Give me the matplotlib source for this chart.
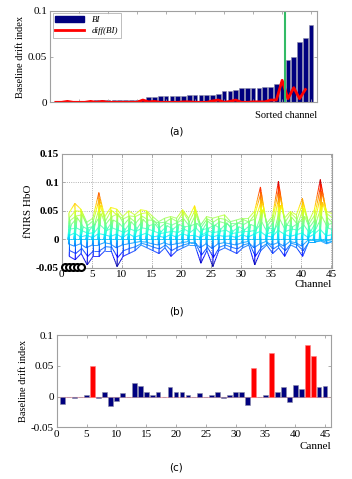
import numpy as np
import matplotlib
matplotlib.use("Agg")
import matplotlib.pyplot as plt
from matplotlib.collections import LineCollection
from matplotlib.colors import Normalize
from matplotlib.lines import Line2D
from matplotlib.patches import Patch

plt.rcParams['font.family'] = ['Liberation Serif', 'DejaVu Serif']
plt.rcParams['font.size'] = 7.5

# baseline drift index per channel (panel c)
channels = np.arange(1, 46)
bi = np.array([-0.012, 0.0, -0.003, -0.001, 0.003, 0.050, -0.003, 0.007, -0.016, -0.0075,
               0.0055, 0.0, 0.022, 0.0165, 0.008, 0.003, 0.008, -0.001, 0.0155, 0.007,
               0.007, 0.003, -0.001, 0.006, -0.001, 0.002, 0.007, -0.002, 0.003, 0.008,
               0.008, -0.013, 0.046, 0.0, 0.003, 0.070, 0.007, 0.0155, -0.0095, 0.0195,
               0.012, 0.084, 0.066, 0.0155, 0.017])
drift_channels = [6, 33, 36, 42, 43]
threshold_pos = 40.5   # cut between sorted channel 40 and 41

# fNIRS HbO samples per channel (panel b), one list per time sample
hbo_t1 = [0.018, 0.020, 0.015, 0.010, 0.012, 0.025, 0.015, 0.020, 0.016, 0.012,
          0.018, 0.014, 0.020, 0.018, 0.014, 0.010, 0.012, 0.014, 0.012, 0.018,
          0.012, 0.020, 0.008, 0.014, 0.012, 0.014, 0.016, 0.010, 0.012, 0.014,
          0.014, 0.016, 0.030, 0.010, 0.014, 0.035, 0.014, 0.018, 0.016, 0.025,
          0.010, 0.018, 0.040, 0.020, 0.016]
hbo_t2 = [0.046, 0.063, 0.053, 0.030, 0.037, 0.082, 0.040, 0.056, 0.053, 0.040,
          0.050, 0.043, 0.052, 0.050, 0.040, 0.031, 0.037, 0.040, 0.037, 0.052,
          0.037, 0.059, 0.025, 0.040, 0.037, 0.040, 0.043, 0.031, 0.034, 0.037,
          0.037, 0.049, 0.092, 0.028, 0.040, 0.102, 0.037, 0.049, 0.043, 0.072,
          0.030, 0.052, 0.105, 0.049, 0.045]
hbo_t3 = [-0.008, -0.012, -0.008, -0.015, -0.010, -0.010, -0.006, -0.008, -0.015, -0.010,
          -0.008, -0.006, -0.004, -0.005, -0.008, -0.010, -0.006, -0.010, -0.008, -0.006,
          -0.004, -0.004, -0.015, -0.008, -0.016, -0.008, -0.006, -0.008, -0.010, -0.006,
          -0.004, -0.015, -0.008, -0.004, -0.010, -0.006, -0.012, -0.004, -0.006, -0.012,
          -0.002, -0.002, -0.001, -0.003, -0.001]
hbo_t4 = [0.026, 0.038, 0.022, 0.016, 0.027, 0.045, 0.018, 0.034, 0.028, 0.017,
          0.031, 0.019, 0.035, 0.024, 0.027, 0.013, 0.024, 0.018, 0.026, 0.022,
          0.024, 0.028, 0.017, 0.020, 0.025, 0.018, 0.029, 0.014, 0.022, 0.017,
          0.026, 0.021, 0.052, 0.019, 0.018, 0.060, 0.025, 0.022, 0.029, 0.040,
          0.014, 0.033, 0.065, 0.026, 0.030]
hbo_t5 = [0.0] * 45
hbo_t6 = [0.038, 0.050, 0.049, 0.024, 0.033, 0.072, 0.032, 0.051, 0.042, 0.036,
          0.041, 0.040, 0.045, 0.047, 0.031, 0.029, 0.030, 0.037, 0.031, 0.048,
          0.030, 0.052, 0.021, 0.036, 0.030, 0.037, 0.035, 0.028, 0.027, 0.035,
          0.030, 0.045, 0.082, 0.023, 0.037, 0.092, 0.030, 0.046, 0.035, 0.064,
          0.027, 0.043, 0.096, 0.045, 0.037]
hbo_t7 = [-0.030, -0.036, -0.025, -0.045, -0.030, -0.030, -0.020, -0.020, -0.048, -0.030,
          -0.025, -0.020, -0.010, -0.015, -0.020, -0.025, -0.015, -0.030, -0.020, -0.015,
          -0.010, -0.010, -0.042, -0.020, -0.048, -0.020, -0.015, -0.020, -0.025, -0.015,
          -0.010, -0.045, -0.020, -0.010, -0.025, -0.015, -0.030, -0.010, -0.015, -0.030,
          -0.005, -0.005, -0.003, -0.008, -0.004]
hbo_t8 = [0.033, 0.041, 0.043, 0.020, 0.023, 0.060, 0.027, 0.040, 0.045, 0.026,
          0.038, 0.029, 0.041, 0.034, 0.033, 0.021, 0.029, 0.025, 0.030, 0.036,
          0.022, 0.044, 0.014, 0.032, 0.023, 0.031, 0.028, 0.022, 0.029, 0.026,
          0.032, 0.036, 0.070, 0.017, 0.030, 0.080, 0.021, 0.039, 0.026, 0.055,
          0.021, 0.036, 0.085, 0.038, 0.027]
hbo_t9 = [0.006, 0.011, 0.004, 0.007, 0.003, 0.010, 0.008, 0.005, 0.009, 0.003,
          0.010, 0.004, 0.007, 0.011, 0.004, 0.006, 0.003, 0.008, 0.004, 0.010,
          0.006, 0.007, 0.003, 0.009, 0.004, 0.007, 0.005, 0.006, 0.003, 0.008,
          0.004, 0.009, 0.014, 0.006, 0.004, 0.016, 0.009, 0.005, 0.008, 0.011,
          0.003, 0.009, 0.018, 0.006, 0.008]
hbo_t10 = [-0.020, -0.025, -0.016, -0.030, -0.020, -0.020, -0.013, -0.014, -0.032, -0.020,
           -0.016, -0.013, -0.007, -0.010, -0.014, -0.017, -0.010, -0.020, -0.014, -0.010,
           -0.007, -0.007, -0.028, -0.014, -0.032, -0.014, -0.010, -0.014, -0.017, -0.010,
           -0.007, -0.030, -0.014, -0.007, -0.017, -0.010, -0.020, -0.007, -0.010, -0.020,
           -0.004, -0.004, -0.002, -0.006, -0.003]
event_ch = [0.5, 1.2, 1.9, 2.6, 3.3]
event_y = -0.049

navy = '#00007f'
gray = '#a0a0a0'

fig = plt.figure(figsize=(3.52, 4.79), dpi=100)


def style(ax, size=8):
    for s in ax.spines.values():
        s.set_color(gray)
        s.set_linewidth(0.8)
    ax.tick_params(direction='in', length=2, width=0.6, color=gray,
                   top=True, right=True, labelsize=size, pad=2)


# ---- (a) sorted BI ----
ax = fig.add_axes([0.142, 0.7864, 0.7585, 0.1912])
bi_sorted = np.sort(np.abs(bi))
pos = np.arange(1, len(bi_sorted) + 1)
ax.bar(pos, bi_sorted, width=0.8, color=navy, edgecolor='#8c8ca8', linewidth=0.4)
ax.plot(pos[:-1], np.diff(bi_sorted), color='red', lw=2)
ax.axvline(threshold_pos, color='#33bb66', lw=1.5)
ax.set_xlim(0, 46)
ax.set_ylim(0, 0.1)
ax.set_xticks(np.arange(0, 46, 5))
ax.set_xticklabels([])
ax.set_yticks([0, 0.05, 0.1])
ax.set_yticklabels(['0', '0.05', '0.1'])
ax.set_ylabel('Baseline drift index', fontsize=7.5, labelpad=2)
style(ax)
ax.text(1.0, -0.1, 'Sorted channel', transform=ax.transAxes, ha='right', va='top', fontsize=7.5)
handles = [Patch(facecolor=navy, edgecolor=navy), Line2D([0], [0], color='red', lw=2)]
leg = ax.legend(handles, ['BI', 'diff(BI)'], loc='upper left',
                prop={'style': 'italic', 'size': 6.5}, frameon=True, fancybox=False,
                borderpad=0.3, handlelength=3.2, labelspacing=0.3, borderaxespad=0.3)
leg.get_frame().set_edgecolor(gray)
leg.get_frame().set_linewidth(0.6)
fig.text(0.5, 0.7265, '(a)', ha='center', va='center', fontsize=7.5, family='DejaVu Sans')

# ---- (b) HbO mesh, coloured by value ----
ax = fig.add_axes([0.1753, 0.4411, 0.767, 0.2374])
norm = Normalize(-0.05, 0.11)


def jet_line(ax, x, y, lw=0.7):
    x = np.asarray(x, float)
    y = np.asarray(y, float)
    t = np.linspace(0, 1, 9)
    segs, vals = [], []
    for i in range(len(x) - 1):
        xs = x[i] + (x[i + 1] - x[i]) * t
        ys = y[i] + (y[i + 1] - y[i]) * t
        for j in range(len(t) - 1):
            segs.append([(xs[j], ys[j]), (xs[j + 1], ys[j + 1])])
            vals.append((ys[j] + ys[j + 1]) / 2)
    lc = LineCollection(segs, cmap='jet', norm=norm, linewidths=lw)
    lc.set_array(np.array(vals))
    ax.add_collection(lc)


rows = [hbo_t1, hbo_t2, hbo_t3, hbo_t4, hbo_t5, hbo_t6, hbo_t7, hbo_t8, hbo_t9, hbo_t10]
# horizontal offset of each time sample (view projection)
shift = [0.45, 0.2, 0.1, 0.6, 0.0, 0.3, 0.25, 0.4, 0.15, 0.35]
for r, dx in zip(rows, shift):
    jet_line(ax, channels + dx, r)
for i in range(45):
    jet_line(ax, [channels[i] + dx for dx in shift], [r[i] for r in rows], lw=0.5)
ax.plot(event_ch, [event_y] * len(event_ch), 'o', ms=5, mfc='white', mec='black', mew=1.5,
        clip_on=False, zorder=5)
ax.set_xlim(0, 45.1)
ax.set_ylim(-0.05, 0.15)
ax.set_xticks(np.arange(0, 46, 5))
ax.set_yticks([-0.05, 0, 0.05, 0.1, 0.15])
ax.set_yticklabels(['-0.05', '0', '0.05', '0.1', '0.15'], fontweight='bold')
ax.grid(True, linestyle=':', color='#999999', linewidth=0.6)
ax.set_ylabel('fNIRS HbO', fontsize=8, labelpad=2)
style(ax)
ax.text(1.0, -0.11, 'Channel', transform=ax.transAxes, ha='right', va='top', fontsize=8)
fig.text(0.5, 0.349, '(b)', ha='center', va='center', fontsize=7.5, family='DejaVu Sans')

# ---- (c) BI per channel ----
ax = fig.add_axes([0.1611, 0.1079, 0.7793, 0.1927])
colors = ['red' if c in drift_channels else navy for c in channels]
edges = ['#ff8080' if c in drift_channels else '#8c8ca8' for c in channels]
ax.axhline(0, color='#ffaaaa', lw=0.8, zorder=0)
ax.bar(channels, bi, width=0.8, color=colors, edgecolor=edges, linewidth=0.4)
ax.set_xlim(0, 46)
ax.set_ylim(-0.05, 0.1)
ax.set_xticks(np.arange(0, 46, 5))
ax.set_yticks([-0.05, 0, 0.05, 0.1])
ax.set_yticklabels(['-0.05', '0', '0.05', '0.1'])
ax.set_ylabel('Baseline drift index', fontsize=7.5, labelpad=2)
style(ax)
ax.text(1.0, -0.16, 'Cannel', transform=ax.transAxes, ha='right', va='top', fontsize=8)
fig.text(0.5, 0.023, '(c)', ha='center', va='center', fontsize=7.5, family='DejaVu Sans')

fig.savefig('out.png', dpi=100)
